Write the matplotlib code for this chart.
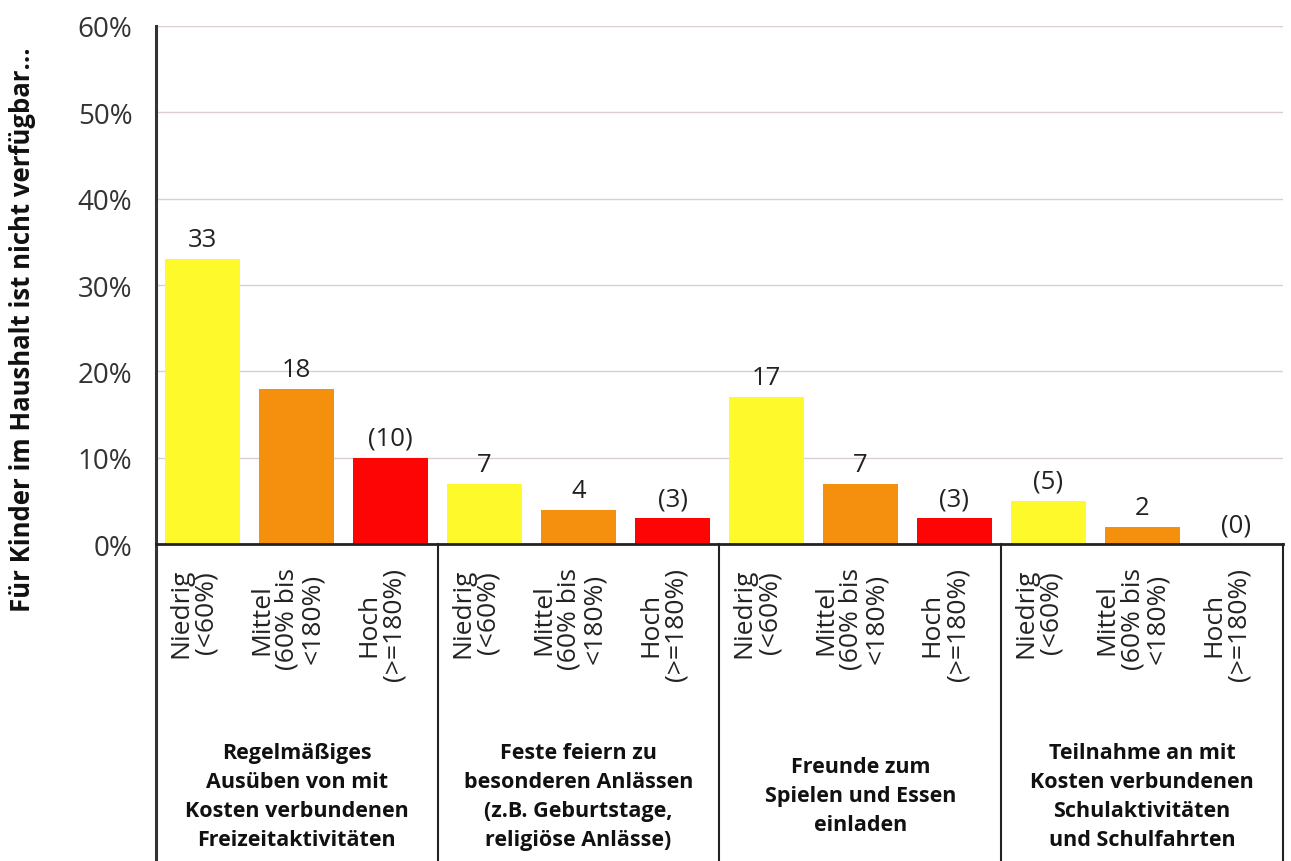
import matplotlib.pyplot as plt
import numpy as np

plt.rcParams['font.family'] = ['Open Sans', 'DejaVu Sans']

# data
groups = ["Regelmäßiges\nAusüben von mit\nKosten verbundenen\nFreizeitaktivitäten",
          "Feste feiern zu\nbesonderen Anlässen\n(z.B. Geburtstage,\nreligiöse Anlässe)",
          "Freunde zum\nSpielen und Essen\neinladen",
          "Teilnahme an mit\nKosten verbundenen\nSchulaktivitäten\nund Schulfahrten"]
levels = ["Niedrig\n(<60%)", "Mittel\n(60% bis\n<180%)", "Hoch\n(>=180%)"]
values = [33, 18, 10, 7, 4, 3, 17, 7, 3, 5, 2, 0]
value_labels = ["33", "18", "(10)", "7", "4", "(3)", "17", "7", "(3)", "(5)", "2", "(0)"]
level_colors = ['#FDF92A', '#F4900E', '#FE0505']

fig = plt.figure(figsize=(12.91, 8.62), dpi=100)
ax = fig.add_axes([0.1208, 0.3677, 0.873, 0.601])

x = np.arange(len(values))
colors = [level_colors[i % 3] for i in range(len(values))]
ax.bar(x, values, width=0.8, color=colors, zorder=2)

for xi, v, lab in zip(x, values, value_labels):
    ax.annotate(lab, (xi, v), xytext=(0, 5), textcoords='offset points',
                ha='center', va='bottom', fontsize=18.5, color='#222222')

ax.set_xlim(-0.5, len(values) - 0.5)
ax.set_ylim(0, 60)
ax.set_yticks(np.arange(0, 61, 10))
ax.set_yticklabels([f"{t}%" for t in range(0, 61, 10)], fontsize=20, color='#333333')
ax.tick_params(axis='y', length=0, pad=17)
ax.set_xticks([])
ax.grid(axis='y', color='#dccdd0', linewidth=1, zorder=0)

for s in ['top', 'right', 'left', 'bottom']:
    ax.spines[s].set_visible(False)

tr = ax.get_xaxis_transform()
lo = -0.625
# left axis line, from top down to bottom of the label boxes
ax.plot([-0.5, -0.5], [1, lo], transform=tr, color='#333333', lw=2.2, clip_on=False, zorder=3)
# x axis line
ax.plot([-0.5, len(values) - 0.5], [0, 0], transform=tr, color='#222222', lw=2, clip_on=False, zorder=3)
# separators between groups + right edge
for b in [2.5, 5.5, 8.5, 11.5]:
    ax.plot([b, b], [0, lo], transform=tr, color='#222222', lw=1.5, clip_on=False)

# rotated level labels
for xi in x:
    ax.text(xi - 0.1, -0.045, levels[xi % 3], transform=tr, rotation=90,
            ha='center', va='top', multialignment='center', fontsize=19,
            linespacing=1.02, color='#222222')

# group labels
for g, name in enumerate(groups):
    ax.text(g * 3 + 1, -0.486, name, transform=tr, ha='center', va='center',
            fontsize=15.5, fontweight='bold', linespacing=1.5, color='#111111')

fig.text(23 / 1291, 1 - 330 / 862, "Für Kinder im Haushalt ist nicht verfügbar…",
         rotation=90, ha='center', va='center', fontsize=18.5, fontweight='bold',
         color='#111111')

fig.savefig("out.png", dpi=100)
